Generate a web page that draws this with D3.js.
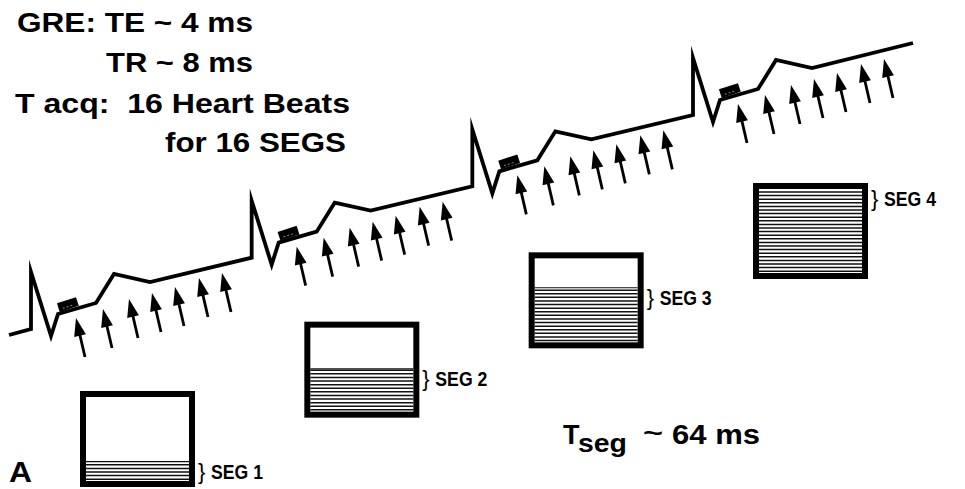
<!DOCTYPE html>
<html><head><meta charset="utf-8">
<script src="https://cdn.jsdelivr.net/npm/d3@7/dist/d3.min.js"></script>
<style>
html,body{margin:0;padding:0;background:#fff;}
svg{display:block;}
text{font-family:"Liberation Sans",Arial,Helvetica,sans-serif;font-weight:bold;fill:#000;white-space:pre;}
</style></head>
<body>
<script>
// ---- data ----
const beats = [0, 1, 2, 3];
// ECG template per beat: time (ms-ish units) and amplitude above baseline
const ecgTime = [0, 0, 20, 27, 65, 83, 119, 220];
const ecgAmp  = [0, 57, -7, 15, 26, 55, 47, 72];
const leadInTime = [-22];
const leadInAmp  = [-6];
// RF pulses (TR) per beat
const pulseTime = [45, 72, 98, 121, 144, 168, 191];
const pulseAmp  = [11, 20, 30, 36, 42, 51, 56];
// acquisition window marker
const windowTime = [37];
const windowAmp  = [24];
// k-space fill fraction after each segment
const segFill   = [0.23, 0.51, 0.65, 1.0];
const segLabels = ["SEG 1", "SEG 2", "SEG 3", "SEG 4"];
const headerLines = ["GRE: TE ~ 4 ms", "TR ~ 8 ms", "T acq:  16 Heart Beats", "for 16 SEGS"];
const tsegParts = ["T", "seg", "~", "64 ms"];
const panelLabel = "A";

// ---- drawing ----
const W = 965, H = 489;
const svg = d3.select("body").append("svg").attr("width", W).attr("height", H);

const beatX = d3.scaleLinear().domain([0, 3]).range([31, 693]);
const beatY = d3.scaleLinear().domain([0, 3]).range([329, 115]);
const tX = d3.scaleLinear().domain([0, 100]).range([0, 100]);
const aY = d3.scaleLinear().domain([0, 100]).range([0, -100]);

// ECG path (continuous)
const pts = [];
pts.push([beatX(0) + tX(leadInTime[0]), beatY(0) + aY(leadInAmp[0])]);
beats.forEach(b => {
  ecgTime.forEach((t, i) => {
    if (i === ecgTime.length - 1 && b < beats.length - 1) return;
    pts.push([beatX(b) + tX(t), beatY(b) + aY(ecgAmp[i])]);
  });
});
svg.append("path")
  .attr("d", d3.line()(pts))
  .attr("fill", "none").attr("stroke", "#000")
  .attr("stroke-width", 3.8).attr("stroke-linejoin", "miter").attr("stroke-miterlimit", 10);

// acquisition window markers
beats.forEach(b => {
  const cx = beatX(b) + tX(windowTime[0]), cy = beatY(b) + aY(windowAmp[0]);
  const g = svg.append("g").attr("transform", `translate(${cx},${cy}) rotate(-18)`);
  g.append("rect").attr("x", -10).attr("y", -5).attr("width", 20).attr("height", 9).attr("fill", "#000");
  g.append("line").attr("x1", -6).attr("x2", 6).attr("y1", 1.5).attr("y2", 1.5)
    .attr("stroke", "#888").attr("stroke-width", 1).attr("stroke-dasharray", "2,2");
});

// RF pulse arrows
const ux = -9 / Math.hypot(9, 39), uy = -39 / Math.hypot(9, 39);
const px = -uy, py = ux;
beats.forEach(b => {
  pulseTime.forEach((t, i) => {
    const tipX = beatX(b) + tX(t), tipY = beatY(b) + aY(pulseAmp[i]);
    const tailX = tipX + 9, tailY = tipY + 39;
    const baseX = tipX - 18 * ux, baseY = tipY - 18 * uy;
    svg.append("line").attr("x1", tailX).attr("y1", tailY).attr("x2", baseX + 2 * ux).attr("y2", baseY + 2 * uy)
      .attr("stroke", "#000").attr("stroke-width", 2.8);
    svg.append("polygon")
      .attr("points", [[tipX, tipY], [baseX + 6 * px, baseY + 6 * py], [baseX - 6 * px, baseY - 6 * py]].map(p => p.join(",")).join(" "))
      .attr("fill", "#000");
  });
});

// k-space boxes
const boxX = d3.scaleLinear().domain([0, 3]).range([80, 753]);
const boxY = d3.scaleLinear().domain([0, 3]).range([391, 183]);
const BW = 115, BH = 96, BS = 6;
const fillY = d3.scaleLinear().domain([0, 1]).range([BH - BS, BS]);
segFill.forEach((f, s) => {
  const x0 = boxX(s), y0 = boxY(s);
  const g = svg.append("g").attr("transform", `translate(${x0},${y0})`);
  g.append("rect").attr("x", BS / 2).attr("y", BS / 2).attr("width", BW - BS).attr("height", BH - BS)
    .attr("fill", "#fff").attr("stroke", "#000").attr("stroke-width", BS);
  const top = fillY(f);
  for (let y = BH - BS - 1.8; y >= top; y -= 3.6) {
    g.append("line").attr("x1", BS).attr("x2", BW - BS).attr("y1", y).attr("y2", y)
      .attr("stroke", "#111").attr("stroke-width", 1.5);
  }
  if (f < 1) {
    g.append("line").attr("x1", BS).attr("x2", BW - BS).attr("y1", top).attr("y2", top)
      .attr("stroke", "#111").attr("stroke-width", 1.2);
  }
  const ly = top + 10;
  g.append("text").attr("x", BW + 3).attr("y", ly + 7).style("font-size", "22px").style("font-weight", "normal").text("}");
  g.append("text").attr("x", BW + 16).attr("y", ly + 7).attr("textLength", 52).attr("lengthAdjust", "spacingAndGlyphs")
    .style("font-size", "19.5px").text(segLabels[s]);
});

// header text
const hdr = [
  {x: 17, y: 32, w: 236},
  {x: 106, y: 72, w: 147},
  {x: 15, y: 113, w: 335},
  {x: 165, y: 152, w: 181}
];
headerLines.forEach((t, i) => {
  svg.append("text").attr("x", hdr[i].x).attr("y", hdr[i].y)
    .attr("textLength", hdr[i].w).attr("lengthAdjust", "spacingAndGlyphs")
    .style("font-size", "27px").text(t);
});

// Tseg label
svg.append("text").attr("x", 563).attr("y", 444).style("font-size", "27px").text(tsegParts[0]);
svg.append("text").attr("x", 578).attr("y", 452).attr("textLength", 49).attr("lengthAdjust", "spacingAndGlyphs")
  .style("font-size", "25px").text(tsegParts[1]);
svg.append("text").attr("x", 643).attr("y", 441).attr("textLength", 20).attr("lengthAdjust", "spacingAndGlyphs")
  .style("font-size", "24px").text(tsegParts[2]);
svg.append("text").attr("x", 672).attr("y", 444).attr("textLength", 88).attr("lengthAdjust", "spacingAndGlyphs")
  .style("font-size", "27px").text(tsegParts[3]);

// panel label
svg.append("text").attr("x", 9).attr("y", 482).attr("textLength", 23).attr("lengthAdjust", "spacingAndGlyphs")
  .style("font-size", "29px").text(panelLabel);
</script>
</body></html>
